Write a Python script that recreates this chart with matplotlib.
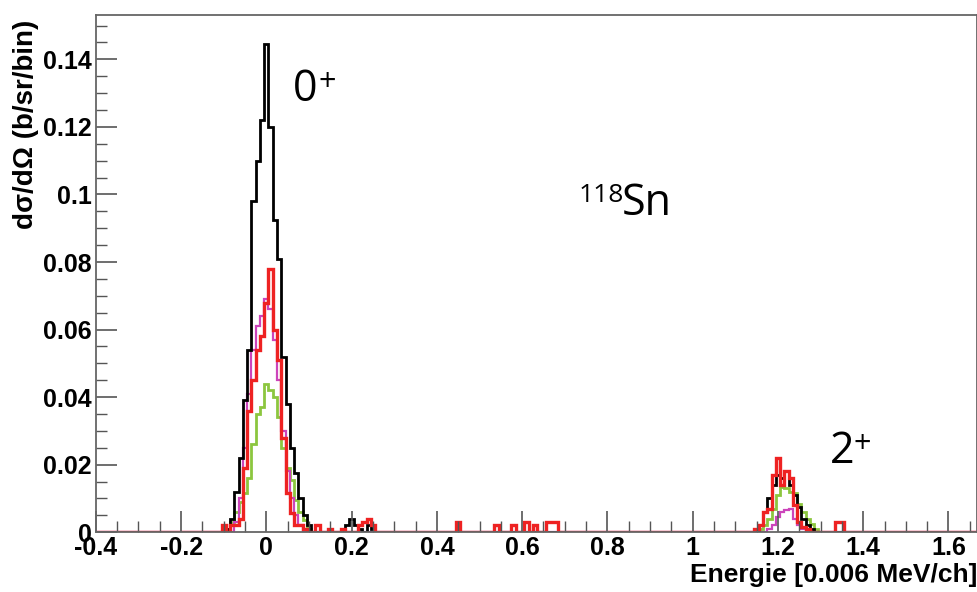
import numpy as np
import matplotlib
matplotlib.use("Agg")
import matplotlib.pyplot as plt
from matplotlib.ticker import MultipleLocator

# histogram bins (energy axis), width 0.01
bin_width = 0.01
x_first, x_last = -0.40, 1.67

# black spectrum
black_x = [-0.09, -0.08, -0.07, -0.06, -0.05, -0.04, -0.03, -0.02, -0.01, 0.00,
           0.01, 0.02, 0.03, 0.04, 0.05, 0.06, 0.07, 0.08, 0.09, 0.10,
           0.19, 0.20, 0.21, 0.22, 0.24, 0.25,
           1.16, 1.17, 1.18, 1.19, 1.20, 1.21, 1.22, 1.23, 1.24, 1.25, 1.26, 1.27, 1.28]
black_y = [0.001, 0.004, 0.012, 0.022, 0.039, 0.054, 0.098, 0.110, 0.122, 0.1445,
           0.120, 0.0925, 0.081, 0.052, 0.038, 0.025, 0.0175, 0.010, 0.005, 0.002,
           0.002, 0.004, 0.002, 0.001, 0.002, 0.001,
           0.002, 0.006, 0.010, 0.014, 0.017, 0.016, 0.018, 0.014, 0.011, 0.0075, 0.004, 0.002, 0.001]

# green spectrum
green_x = [-0.09, -0.08, -0.07, -0.06, -0.05, -0.04, -0.03, -0.02, -0.01, 0.00,
           0.01, 0.02, 0.03, 0.04, 0.05, 0.06, 0.07, 0.08, 0.09, 0.10,
           1.16, 1.17, 1.18, 1.19, 1.20, 1.21, 1.22, 1.23, 1.24, 1.25, 1.26, 1.27, 1.28, 1.29]
green_y = [0.001, 0.003, 0.006, 0.009, 0.0115, 0.016, 0.026, 0.035, 0.037, 0.044,
           0.042, 0.040, 0.034, 0.025, 0.019, 0.0155, 0.0095, 0.006, 0.0036, 0.001,
           0.001, 0.002, 0.004, 0.007, 0.011, 0.0135, 0.013, 0.012, 0.0115, 0.0085, 0.006, 0.004, 0.0025, 0.001]

# magenta spectrum
magenta_x = [-0.07, -0.06, -0.05, -0.04, -0.03, -0.02, -0.01, 0.00,
             0.01, 0.02, 0.03, 0.04, 0.05, 0.06, 0.07, 0.08,
             1.18, 1.19, 1.20, 1.21, 1.22, 1.23, 1.24, 1.25, 1.26]
magenta_y = [0.003, 0.010, 0.025, 0.041, 0.054, 0.061, 0.064, 0.069,
             0.066, 0.057, 0.045, 0.030, 0.018, 0.010, 0.005, 0.002,
             0.001, 0.002, 0.0045, 0.006, 0.0065, 0.007, 0.004, 0.002, 0.001]

# red spectrum
red_x = [-0.10, -0.08, -0.07, -0.06, -0.05, -0.04, -0.03, -0.02, -0.01, 0.00,
         0.01, 0.02, 0.03, 0.04, 0.05, 0.06, 0.07, 0.08, 0.09,
         0.12, 0.15, 0.18, 0.22, 0.23, 0.24, 0.25,
         0.45, 0.54, 0.58, 0.61, 0.63, 0.66, 0.67, 0.68,
         1.15, 1.16, 1.17, 1.18, 1.19, 1.20, 1.21, 1.22, 1.23, 1.24, 1.25, 1.26, 1.27,
         1.34, 1.35]
red_y = [0.002, 0.002, 0.002, 0.004, 0.019, 0.036, 0.045, 0.054, 0.058, 0.068,
         0.078, 0.060, 0.051, 0.028, 0.0115, 0.0056, 0.002, 0.002, 0.001,
         0.002, 0.001, 0.001, 0.002, 0.003, 0.004, 0.002,
         0.003, 0.002, 0.002, 0.003, 0.002, 0.003, 0.003, 0.003,
         0.001, 0.002, 0.006, 0.007, 0.017, 0.022, 0.014, 0.018, 0.016, 0.008, 0.003, 0.0015, 0.001,
         0.003, 0.003]

n_bins = int(round((x_last - x_first) / bin_width)) + 1
edges = x_first - bin_width / 2 + bin_width * np.arange(n_bins + 1)


def fill_hist(xs, ys):
    h = np.zeros(n_bins)
    idx = np.round((np.array(xs) - x_first) / bin_width).astype(int)
    h[idx] = ys
    return h


fig = plt.figure(figsize=(9.78, 5.92), dpi=100)
ax = fig.add_axes([0.098, 0.101, 0.901, 0.874])

ax.stairs(fill_hist(green_x, green_y), edges, color="#8cc63f", lw=2.0)
ax.stairs(fill_hist(magenta_x, magenta_y), edges, color="#cc44bb", lw=1.6)
ax.stairs(fill_hist(black_x, black_y), edges, color="black", lw=2.0)
ax.stairs(fill_hist(red_x, red_y), edges, color="#ee2222", lw=2.4)

ax.set_xlim(-0.4, 1.667)
ax.set_ylim(0, 0.1532)

ax.xaxis.set_major_locator(MultipleLocator(0.2))
ax.xaxis.set_minor_locator(MultipleLocator(0.05))
ax.yaxis.set_major_locator(MultipleLocator(0.02))
ax.yaxis.set_minor_locator(MultipleLocator(0.005))
ax.tick_params(which="both", direction="in", color="#555555", top=False, right=False)
ax.tick_params(which="major", length=15, width=1.2)
ax.tick_params(which="minor", length=8, width=1.0)

xt = np.round(np.arange(-0.4, 1.61, 0.2), 1)
ax.set_xticks(xt)
ax.set_xticklabels(["%g" % v for v in xt])
yt = np.round(np.arange(0, 0.141, 0.02), 2)
ax.set_yticks(yt)
ax.set_yticklabels(["%g" % v for v in yt])

for lab in ax.get_xticklabels() + ax.get_yticklabels():
    lab.set_fontfamily("Liberation Sans")
    lab.set_fontweight("bold")
    lab.set_fontsize(18)
ax.tick_params(axis="x", pad=3)
ax.tick_params(axis="y", pad=3)

for sp in ax.spines.values():
    sp.set_color("#666666")
    sp.set_linewidth(1.3)

ax.set_xlabel("Energie [0.006 MeV/ch]", fontfamily="Liberation Sans",
              fontweight="bold", fontsize=19, loc="right", labelpad=2)
ax.set_ylabel("d\u03c3/d\u03a9 (b/sr/bin)", fontfamily="Liberation Sans",
              fontweight="bold", fontsize=20, loc="top")
ax.yaxis.set_label_coords(-0.064, 0.99)

# peak / nucleus labels
big = dict(fontsize=31, fontfamily="Open Sans", va="baseline")
small = dict(fontsize=22, fontfamily="Open Sans", va="baseline")
ax.text(0.062, 0.1276, "0", **big)
ax.text(0.1216, 0.1305, "+", **small)
ax.text(0.732, 0.0978, "118", fontsize=19, fontfamily="Open Sans", va="baseline")
ax.text(0.8327, 0.0939, "Sn", **big)
ax.text(1.3216, 0.0204, "2", **big)
ax.text(1.378, 0.0234, "+", **small)

fig.savefig("out.png", dpi=100)
